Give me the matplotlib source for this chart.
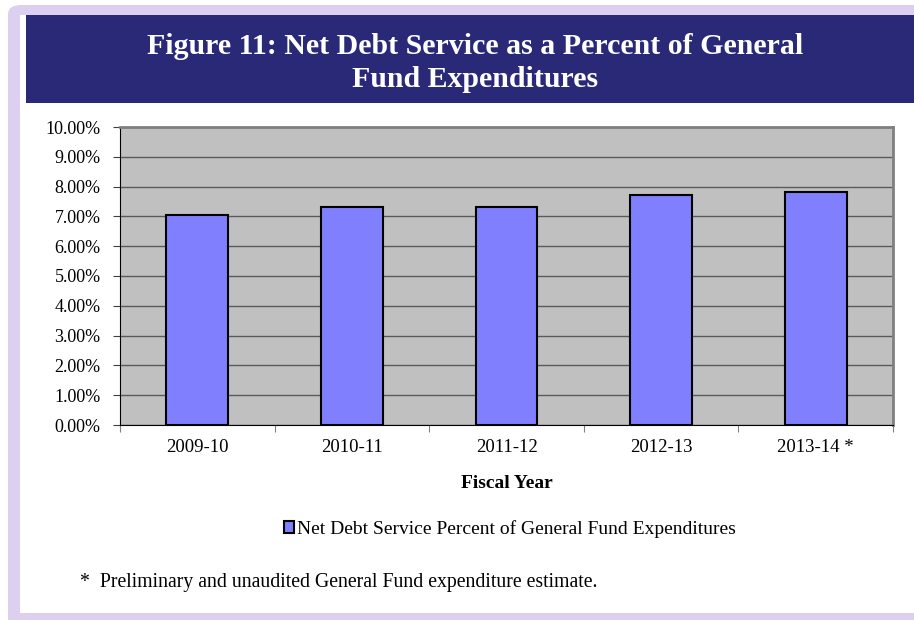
import matplotlib.pyplot as plt
from matplotlib.patches import Rectangle, FancyBboxPatch

# Data
years = ['2009-10', '2010-11', '2011-12', '2012-13', '2013-14 *']
pct = [7.06, 7.33, 7.30, 7.72, 7.82]
y_ticks = [0, 1, 2, 3, 4, 5, 6, 7, 8, 9, 10]

plt.rcParams['font.family'] = ['Liberation Serif', 'DejaVu Serif']

W, H = 914, 620
fig = plt.figure(figsize=(W / 100, H / 100), dpi=100)


def box(x0, y0, x1, y1):
    # pixel box (top-left origin) -> figure fraction rectangle
    return x0 / W, 1 - y1 / H, (x1 - x0) / W, (y1 - y0) / H


# background frame: lavender border, white panel, navy title band
l, b, w, h = box(8, 5, 930, 640)
fig.patches.append(FancyBboxPatch((l, b), w, h, transform=fig.transFigure,
                                  boxstyle='round,pad=0,rounding_size=0.015',
                                  facecolor='#dccff0', edgecolor='none', zorder=-3))
fig.patches.append(Rectangle(box(20, 15, 914, 613)[:2], *box(20, 15, 914, 613)[2:],
                             transform=fig.transFigure,
                             facecolor='white', edgecolor='none', zorder=-2))
fig.patches.append(Rectangle(box(26, 15, 914, 103)[:2], *box(26, 15, 914, 103)[2:],
                             transform=fig.transFigure,
                             facecolor='#292978', edgecolor='none', zorder=-1))
fig.text(475 / W, 1 - 63 / H,
         'Figure 11: Net Debt Service as a Percent of General\nFund Expenditures',
         ha='center', va='center', color='white', fontsize=21.5, fontweight='bold',
         linespacing=1.32)

ax = fig.add_axes(box(120, 127, 893, 425))
ax.set_facecolor('#c0c0c0')

x = range(len(years))
ax.bar(x, pct, width=0.4, color='#8080ff', edgecolor='black', linewidth=1.5,
       zorder=3, label='Net Debt Service Percent of General Fund Expenditures')

ax.set_xlim(-0.5, len(years) - 0.5)
ax.set_ylim(0, 10)
ax.set_yticks(y_ticks)
ax.set_yticklabels([f'{v:.2f}%' for v in y_ticks], fontsize=13)
ax.yaxis.grid(True, color='#5a5a5a', linewidth=1, zorder=0)
ax.set_axisbelow(True)

# category labels centred, tick marks at the boundaries
ax.set_xticks([i - 0.5 for i in range(len(years) + 1)])
ax.set_xticklabels([])
ax.set_xticks(list(x), minor=True)
ax.set_xticklabels(years, minor=True, fontsize=13.5)
ax.tick_params(axis='x', which='minor', length=0, pad=10)
ax.tick_params(axis='x', which='major', length=5, color='#808080')
ax.tick_params(axis='y', length=5, color='#404040', pad=9)

for side in ['top', 'right']:
    ax.spines[side].set_color('#808080')
    ax.spines[side].set_linewidth(2)
ax.spines['left'].set_color('black')
ax.spines['bottom'].set_color('black')

ax.set_xlabel('Fiscal Year', fontsize=14, fontweight='bold', labelpad=14)

fig.legend(loc='center', bbox_to_anchor=(510 / W, 1 - 529 / H), frameon=False,
           fontsize=14, handlelength=0.55, handleheight=0.55, handletextpad=0.15)

fig.text(80 / W, 1 - 583 / H,
         '*  Preliminary and unaudited General Fund expenditure estimate.',
         ha='left', va='center', fontsize=14.2)

fig.savefig('out.png', dpi=100)
